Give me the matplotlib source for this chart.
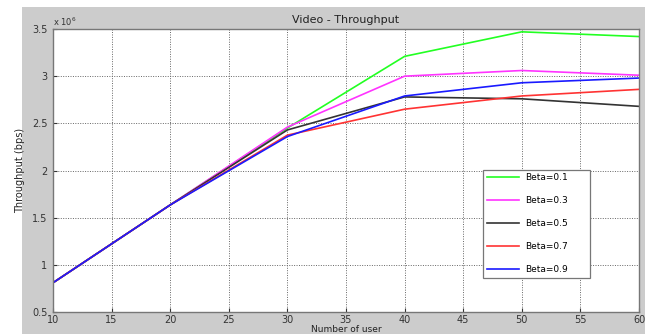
import matplotlib
matplotlib.use("Agg")
import matplotlib.pyplot as plt
from matplotlib.patches import Rectangle

users = [10, 20, 30, 40, 50, 60]
beta_labels = ["Beta=0.1", "Beta=0.3", "Beta=0.5", "Beta=0.7", "Beta=0.9"]
beta01 = [0.81, 1.635, 2.45, 3.21, 3.47, 3.42]
beta03 = [0.81, 1.635, 2.46, 3.00, 3.06, 3.01]
beta05 = [0.81, 1.635, 2.43, 2.78, 2.76, 2.68]
beta07 = [0.81, 1.635, 2.375, 2.65, 2.79, 2.86]
beta09 = [0.81, 1.635, 2.36, 2.79, 2.93, 2.98]
series = [beta01, beta03, beta05, beta07, beta09]
colors = ["#22ff22", "#ff33ff", "#333333", "#ff3333", "#1a1aff"]
xticks = [10, 15, 20, 25, 30, 35, 40, 45, 50, 55, 60]
yticks = [0.5, 1, 1.5, 2, 2.5, 3, 3.5]
yticklabels = ["0.5", "1", "1.5", "2", "2.5", "3", "3.5"]

W, H = 650, 334
fig = plt.figure(figsize=(6.5, 3.34), dpi=100, facecolor="white")
bg = Rectangle((22 / W, 0), (645 - 22) / W, (334 - 7) / H,
               transform=fig.transFigure, facecolor="#cccccc",
               edgecolor="none", zorder=-10)
fig.add_artist(bg)

ax = fig.add_axes([53 / W, 1 - 312 / H, (639 - 53) / W, (312 - 29) / H])
ax.set_zorder(1)
ax.set_facecolor("white")
for ys, c, lab in zip(series, colors, beta_labels):
    ax.plot(users, ys, color=c, lw=1.2, label=lab)

ax.set_xlim(10, 60)
ax.set_ylim(0.5, 3.5)
ax.set_xticks(xticks)
ax.set_yticks(yticks)
ax.set_yticklabels(yticklabels)
ax.tick_params(direction="in", labelsize=7, colors="#333333", length=3)
ax.tick_params(axis="x", pad=2)
ax.tick_params(axis="y", pad=4)
ax.grid(True, linestyle=(0, (1, 1.5)), color="#666666", lw=0.7)
for s in ax.spines.values():
    s.set_color("#777777")
    s.set_linewidth(1.0)

ax.set_title("Video - Throughput", fontsize=8, color="#222222", pad=4)
ax.set_ylabel("Throughput (bps)", fontsize=7, color="#222222", labelpad=5)
fig.text(0.5 * (53 + 639) / W, 0.3 / H, "Number of user", ha="center",
         va="bottom", fontsize=6.5, color="#222222", zorder=5)
ax.text(0.0, 1.005, r"x 10$^6$", transform=ax.transAxes, fontsize=6,
        color="#333333", ha="left", va="bottom")

leg = ax.legend(loc="lower left", bbox_to_anchor=(0.734, 0.12, 0.182, 0.424),
                mode="expand", fontsize=6.5, labelspacing=1.55, handlelength=3.6,
                handletextpad=0.6, borderaxespad=0, fancybox=False,
                edgecolor="#777777", framealpha=1)
leg.get_frame().set_linewidth(0.9)

fig.savefig("out.png", dpi=100, facecolor=fig.get_facecolor())
